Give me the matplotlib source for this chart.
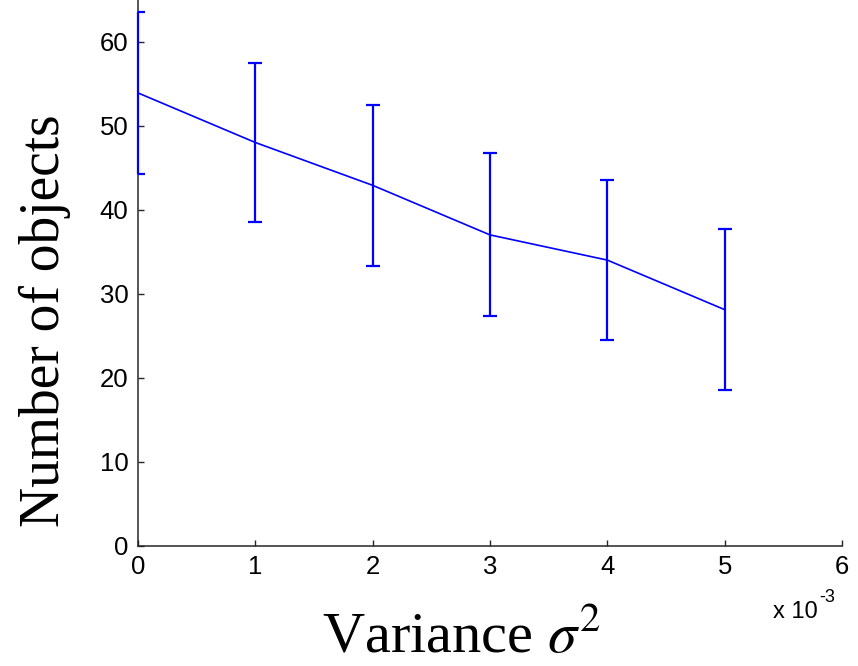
import numpy as np
import matplotlib.pyplot as plt
from matplotlib.ticker import FuncFormatter

# data
variance = [0.0, 0.001, 0.002, 0.003, 0.004, 0.005]
n_objects = [53.9, 48.0, 42.9, 37.0, 34.0, 28.1]
err = [9.6, 9.5, 9.6, 9.7, 9.5, 9.6]

plt.rcParams["mathtext.fontset"] = "stix"

fig = plt.figure(figsize=(8.58, 6.66), dpi=100)
ax = fig.add_axes([138 / 858, 1 - 545.7 / 666, 704 / 858, 545.7 / 666])

line, caps, bars = ax.errorbar(variance, n_objects, yerr=err, color="#0000ff", lw=1.2,
                               elinewidth=1.6, capsize=5, capthick=1.6, zorder=3)
# MATLAB draws the first error bar on top of the y axis line
for b in bars:
    b.set_clip_on(False)

ax.set_xlim(0, 0.006)
ax.set_ylim(0, 545.7 / 8.4)
ax.set_xticks(np.arange(0, 0.0061, 0.001))
ax.set_yticks(np.arange(0, 61, 10))
ax.xaxis.set_major_formatter(FuncFormatter(lambda v, p: "%g" % round(v * 1000, 6)))

for s in ["top", "right"]:
    ax.spines[s].set_visible(False)
for s in ["left", "bottom"]:
    ax.spines[s].set_color("#262626")
    ax.spines[s].set_linewidth(1.1)

ax.tick_params(direction="in", length=4, width=1.0, color="#262626",
               labelsize=18.5, pad=7)
for lab in ax.get_xticklabels() + ax.get_yticklabels():
    lab.set_family("Liberation Sans")

ax.set_ylabel("Number of objects", family="Liberation Serif", fontsize=40,
              va="center")
ax.yaxis.set_label_coords((45 - 138) / 704, (545.7 - 321) / 545.7)
ax.set_xlabel(r"Variance $\sigma^2$", family="Liberation Serif", fontsize=42,
              va="center")
ax.xaxis.set_label_coords((462 - 138) / 704, -(638 - 545.7) / 545.7)

# scale factor shown under the x axis, MATLAB style
ax.text((818 - 138) / 704, -(612 - 545.7) / 545.7, "x 10", transform=ax.transAxes,
        ha="right", va="center", fontsize=17, family="Liberation Sans")
ax.text((819 - 138) / 704, -(598 - 545.7) / 545.7, "-3", transform=ax.transAxes,
        ha="left", va="center", fontsize=13, family="Liberation Sans")

fig.savefig("out.png", dpi=100)
